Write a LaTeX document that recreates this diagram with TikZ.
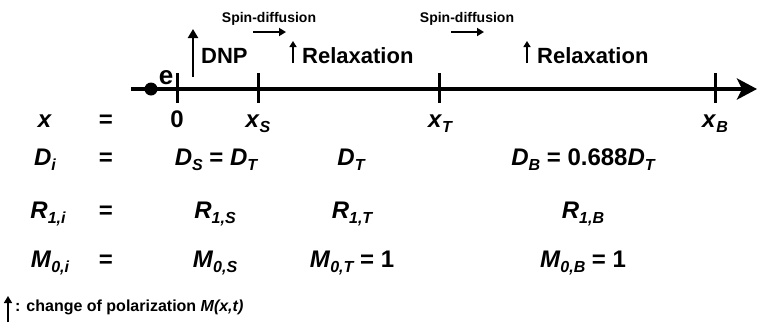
\documentclass[tikz,border=0pt]{standalone}
\usepackage{fontspec}
\setmainfont{Liberation Sans}
\usetikzlibrary{arrows.meta}
\newcommand\sbs[1]{\raisebox{-0.22em}{\fontsize{16}{16}\selectfont\bfseries\itshape #1}}
\newcommand\var[2]{\textit{#1}\sbs{#2}}
\begin{document}
\begin{tikzpicture}[x=1pt,y=-1pt,
  big/.style={inner sep=0pt,font=\fontsize{22}{26}\selectfont\bfseries},
  row/.style={inner sep=0pt,anchor=base,font=\fontsize{24}{28}\selectfont\bfseries},
  small/.style={inner sep=0pt,anchor=base,font=\fontsize{14}{17}\selectfont\bfseries},
  tick/.style={line width=3pt},
  change/.style={-{Triangle[length=6pt,width=7pt]},line width=1.6pt},
  flow/.style={-{Triangle[length=7pt,width=8pt]},line width=2pt}]
\useasboundingbox (0,0) rectangle (758,325);
% axis
\coordinate (axs) at (131,89);
\coordinate (axe) at (757,89);
\draw[line width=4pt,-{Stealth[length=20pt,width=21pt,inset=5pt]}] (axs) -- (axe);
\node[circle,fill=black,inner sep=0pt,minimum size=13pt] (dot) at (151,89) {};
\node[inner sep=0pt,anchor=base,font=\fontsize{26}{28}\selectfont\bfseries] (e) at (166,84) {e};
% ticks
\coordinate (t0a) at (177,73); \coordinate (t0b) at (177,103);
\coordinate (tSa) at (258,73); \coordinate (tSb) at (258,103);
\coordinate (tTa) at (439,73); \coordinate (tTb) at (439,103);
\coordinate (tBa) at (715,73); \coordinate (tBb) at (715,103);
\draw[tick] (t0a) -- (t0b);
\draw[tick] (tSa) -- (tSb);
\draw[tick] (tTa) -- (tTb);
\draw[tick] (tBa) -- (tBb);
% DNP
\coordinate (dnpA) at (193,77); \coordinate (dnpB) at (193,29);
\draw[-{Triangle[length=9pt,width=10pt]},line width=2.5pt] (dnpA) -- (dnpB);
\node[big,anchor=base west] (dnp) at (201,63) {DNP};
% relaxation
\coordinate (r1a) at (293,63); \coordinate (r1b) at (293,41);
\draw[change] (r1a) -- (r1b);
\node[big,anchor=base west] (rel1) at (302,63) {Relaxation};
\coordinate (r2a) at (527,63); \coordinate (r2b) at (527,41);
\draw[change] (r2a) -- (r2b);
\node[big,anchor=base west] (rel2) at (537,63) {Relaxation};
% spin diffusion
\node[small] (sd1) at (269,22) {Spin-diffusion};
\node[small] (sd2) at (467,22) {Spin-diffusion};
\coordinate (s1a) at (253,32); \coordinate (s1b) at (286,32);
\coordinate (s2a) at (451,32); \coordinate (s2b) at (484,32);
\draw[flow] (s1a) -- (s1b);
\draw[flow] (s2a) -- (s2b);
% rows
\node[row] (lx) at (45,127) {\textit{x}};
\node[row] (eqx) at (106,127) {=};
\node[row] (x0) at (177,127) {0};
\node[row] (xS) at (258,127) {\var{x}{S}};
\node[row] (xT) at (440,127) {\var{x}{T}};
\node[row] (xB) at (715,127) {\var{x}{B}};
\node[row] (lD) at (45,165) {\var{D}{i}};
\node[row] (eqD) at (106,165) {=};
\node[row] (DS) at (216,165) {\var{D}{S} = \var{D}{T}};
\node[row] (DT) at (351,165) {\var{D}{T}};
\node[row] (DB) at (583,165) {\var{D}{B} = 0.688\var{D}{T}};
\node[row] (lR) at (48,218) {\var{R}{1,i}};
\node[row] (eqR) at (106,218) {=};
\node[row] (RS) at (215,218) {\var{R}{1,S}};
\node[row] (RT) at (352,218) {\var{R}{1,T}};
\node[row] (RB) at (583,218) {\var{R}{1,B}};
\node[row] (lM) at (50,267) {\var{M}{0,i}};
\node[row] (eqM) at (106,267) {=};
\node[row] (MS) at (215,267) {\var{M}{0,S}};
\node[row] (MT) at (352,267) {\var{M}{0,T} = 1};
\node[row] (MB) at (583,267) {\var{M}{0,B} = 1};
% legend
\coordinate (lga) at (8,322); \coordinate (lgb) at (8,296);
\draw[-{Triangle[length=7pt,width=8pt]},line width=1.6pt] (lga) -- (lgb);
\node[inner sep=0pt,anchor=base west,font=\fontsize{16}{18}\selectfont\bfseries] (leg) at (15,311) {: change of polarization \textit{M(x,t)}};
\end{tikzpicture}
\end{document}
